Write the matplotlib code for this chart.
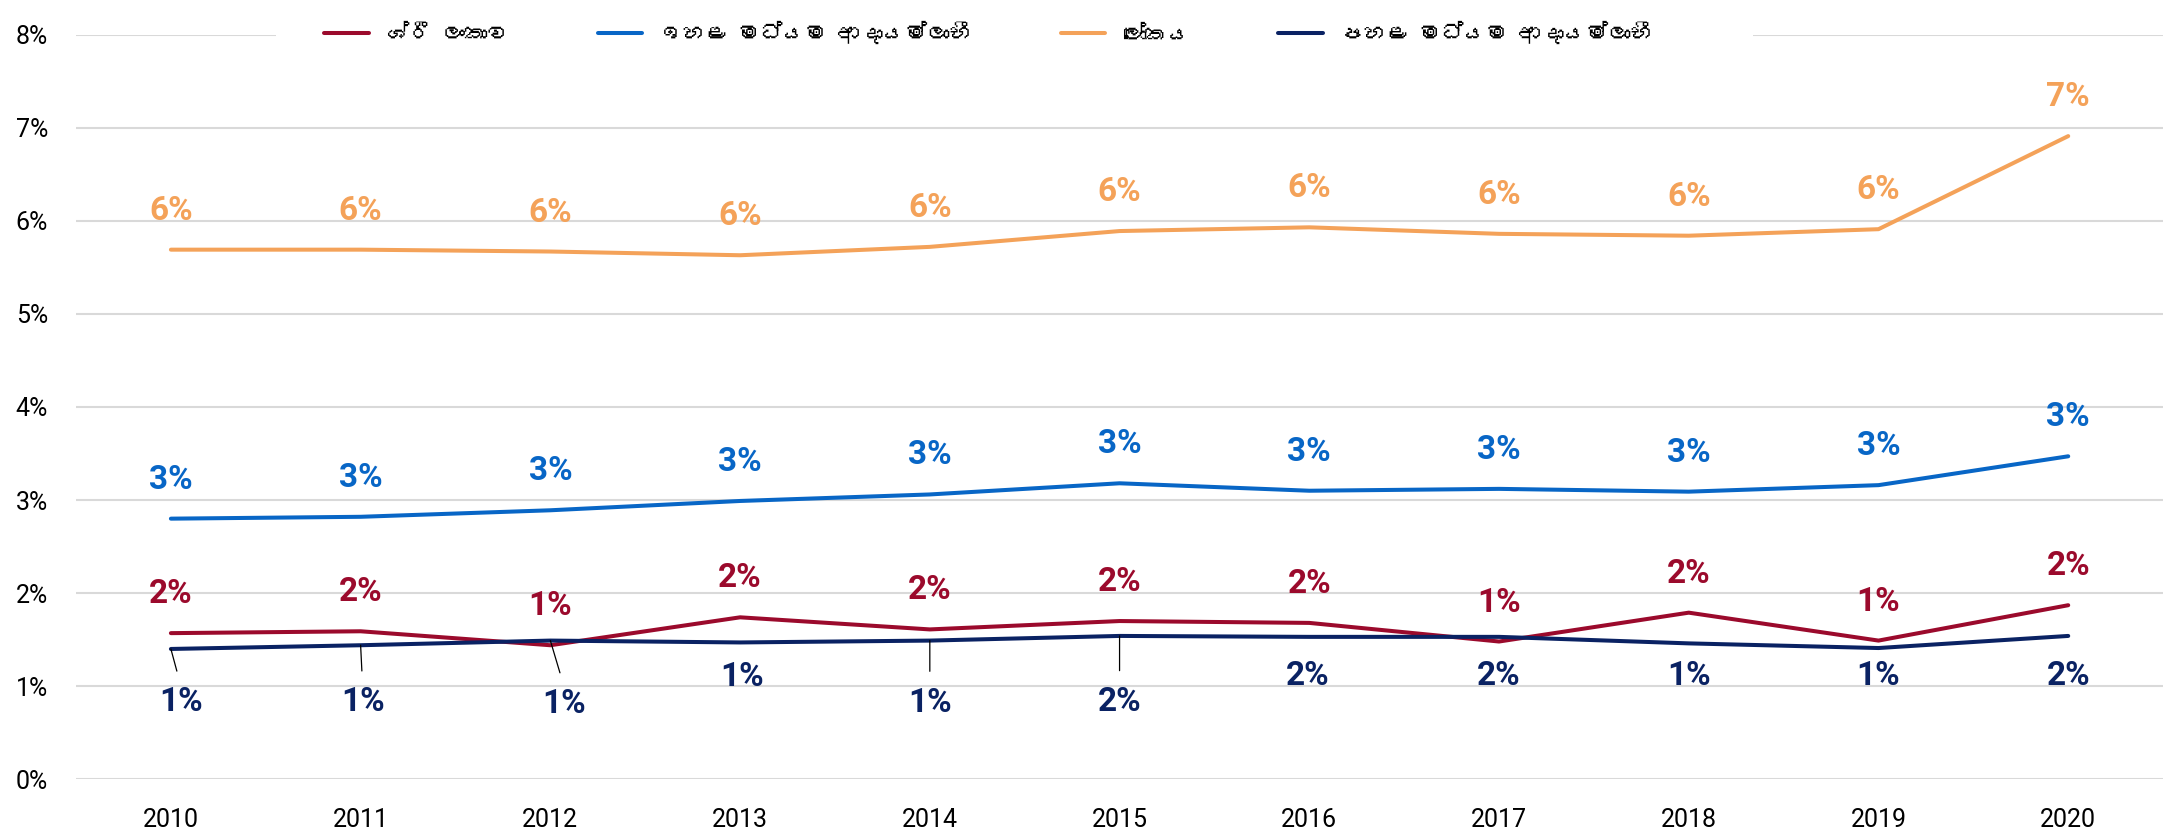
import matplotlib
matplotlib.use("Agg")
import matplotlib.pyplot as plt
from matplotlib import font_manager
from matplotlib.ft2font import FT2Font
from matplotlib.patches import Rectangle

years = [2010, 2011, 2012, 2013, 2014, 2015, 2016, 2017, 2018, 2019, 2020]

# values in percent
sri_lanka = [1.57, 1.59, 1.44, 1.74, 1.61, 1.70, 1.68, 1.48, 1.79, 1.49, 1.87]
upper_middle = [2.80, 2.82, 2.89, 2.99, 3.06, 3.18, 3.10, 3.12, 3.09, 3.16, 3.47]
world = [5.69, 5.69, 5.67, 5.63, 5.72, 5.89, 5.93, 5.86, 5.84, 5.91, 6.91]
lower_middle = [1.40, 1.44, 1.49, 1.47, 1.49, 1.54, 1.53, 1.53, 1.46, 1.41, 1.54]

# the ZWJ is left out: the Sinhala font has no glyph for it
series_names = [
    "ශ්රී ලංකාව",
    "ඉහළ මධ්යම ආදායම්ලාභී",
    "ලෝකය",
    "පහළ මධ්යම ආදායම්ලාභී",
]
colors = ["#9b0a2c", "#0866c6", "#f4a259", "#0a2263"]

# manual label placement for the navy series (pixels: dx, dy, leader line)
navy_label_dx = [10, 2, 14, 2, 0, 0, -2, 0, 0, 0, 0]
navy_label_dy = [-53, -57, -63, -35, -62, -66, -39, -39, -33, -28, -40]
navy_leader = [True, True, True, False, True, True, False, False, False, False, False]


def find_font_for(char):
    for entry in font_manager.fontManager.ttflist:
        try:
            if ord(char) in FT2Font(entry.fname).get_charmap():
                return entry.name
        except Exception:
            continue
    return None


sinhala_font = find_font_for("ල")
legend_family = [sinhala_font, "DejaVu Sans"] if sinhala_font else ["DejaVu Sans"]

plt.rcParams["font.family"] = ["Roboto", "DejaVu Sans"]

fig = plt.figure(figsize=(21.72, 8.33), dpi=100)
ax = fig.add_axes([0.035, 0.0645, 0.9609, 0.8939])

x = list(range(len(years)))
all_series = [sri_lanka, upper_middle, world, lower_middle]
for values, name, color in zip(all_series, series_names, colors):
    ax.plot(x, values, color=color, lw=2.9, label=name, solid_capstyle="round")

for values, color in zip(all_series[:3], colors[:3]):
    for xi, v in zip(x, values):
        ax.annotate(f"{v:.0f}%", (xi, v), xytext=(0, 39), textcoords="offset pixels",
                    ha="center", va="center", fontsize=24, fontweight="bold", color=color)

for xi, v, dx, dy, lead in zip(x, lower_middle, navy_label_dx, navy_label_dy, navy_leader):
    arrow = None
    if lead:
        arrow = dict(arrowstyle="-", color="black", lw=0.9, shrinkA=9, shrinkB=0,
                     relpos=(0.5, 1.0))
    ax.annotate(f"{v:.0f}%", (xi, v), xytext=(dx, dy), textcoords="offset pixels",
                ha="center", va="center", fontsize=24, fontweight="bold",
                color=colors[3], arrowprops=arrow)

ax.set_xlim(-0.5, len(years) - 0.5)
ax.set_ylim(0, 8)
ax.set_xticks(x)
ax.set_xticklabels([str(y) for y in years])
ax.set_yticks(range(0, 9))
ax.set_yticklabels([f"{t}%" for t in range(0, 9)])
ax.tick_params(axis="both", length=0, labelsize=18, colors="black")
ax.tick_params(axis="y", pad=20)
ax.tick_params(axis="x", pad=21)
ax.grid(axis="y", color="#d9d9d9", lw=1.5)
ax.set_axisbelow(True)
for spine in ax.spines.values():
    spine.set_visible(False)

# white legend area hiding the top gridline
fig.add_artist(Rectangle((0.127, 0.93), 0.68, 0.07, transform=fig.transFigure,
                         facecolor="white", edgecolor="none", zorder=3))

leg = fig.legend(loc="upper center", bbox_to_anchor=(0.455, 1.0), ncol=4, frameon=False,
                 handlelength=2.0, handletextpad=0.8, columnspacing=4.0, borderpad=0.45,
                 prop={"family": legend_family, "size": 16})
leg.set_zorder(5)

fig.savefig("out.png", dpi=100)
